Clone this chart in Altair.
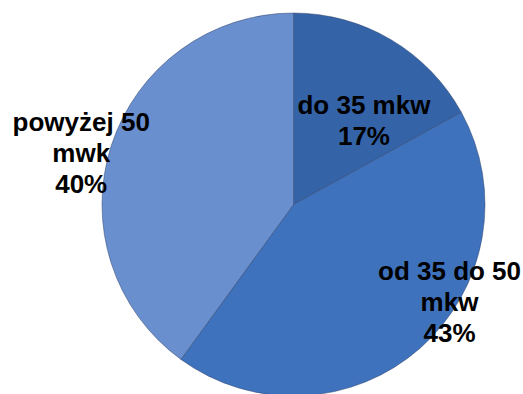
import altair as alt
import pandas as pd

categories = ["do 35 mkw", "od 35 do 50 mkw", "powyżej 50 mwk"]
values = [17, 43, 40]
label_lines = [["do 35 mkw", "17%"], ["od 35 do 50", "mkw", "43%"], ["powyżej 50", "mwk", "40%"]]
colors = ["#3563a8", "#3f72bd", "#6a8fcf"]

df = pd.DataFrame({
    "cat": categories,
    "value": values,
    "order": list(range(len(categories))),
    "label": ["\n".join(l) for l in label_lines],
})

theta_scale = alt.Scale(domain=[0, sum(values)])

pie = alt.Chart(df).mark_arc(stroke="#2a3f66", strokeWidth=0.8, strokeOpacity=0.6).encode(
    theta=alt.Theta("value:Q", stack=True, scale=theta_scale),
    order=alt.Order("order:Q"),
    color=alt.Color("cat:N", scale=alt.Scale(domain=categories, range=colors), legend=None),
)

lab_base = alt.Chart(df).transform_window(
    cum="sum(value)", sort=[alt.SortField("order")]
).transform_calculate(mid="datum.cum - datum.value / 2")

# label placement per slice: (radius, dx, dy)
placements = [(105, 17, -8), (183, 35, -70), (219, -4, -14)]
layers = [pie]
for cat, (r, dx, dy) in zip(categories, placements):
    t = lab_base.transform_filter(alt.datum.cat == cat).mark_text(
        radius=r, dx=dx, dy=dy, font="Liberation Sans", fontWeight="bold",
        fontSize=26, lineBreak="\n", lineHeight=31, color="#000000",
        align="center", baseline="middle",
    ).encode(
        theta=alt.Theta("mid:Q", stack=None, scale=theta_scale),
        text="label:N",
    )
    layers.append(t)

chart = alt.layer(*layers).properties(
    width=383, height=383,
    autosize=alt.AutoSizeParams(type="none"),
    padding={"left": 102, "top": 13, "right": 38, "bottom": 0},
).configure_view(stroke=None)

chart.save("out.html", embed_options={"renderer": "svg", "actions": False})
